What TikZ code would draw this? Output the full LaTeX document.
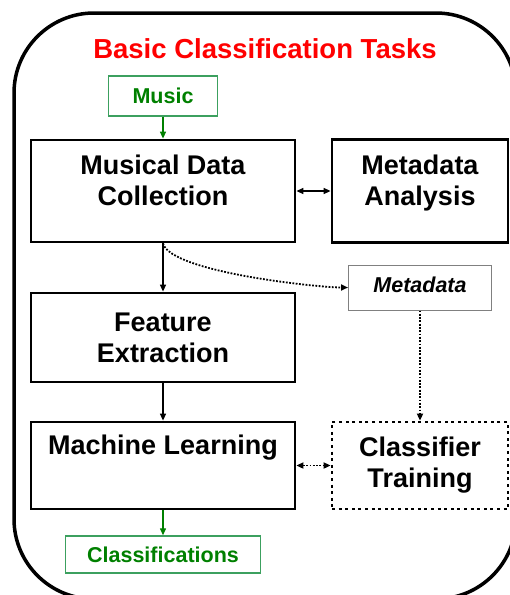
\documentclass[tikz,border=0pt]{standalone}
\usepackage{fontspec}
\setmainfont{Liberation Sans}
\usetikzlibrary{arrows.meta}
\definecolor{titlered}{RGB}{255,0,0}
\definecolor{musicgreen}{RGB}{0,128,0}
\definecolor{framegreen}{RGB}{60,160,95}
\tikzset{>={Triangle[length=7pt,width=6pt]},
task/.style={ % Sets the properties for each task box
draw,
line width=2.8pt,
inner sep=0pt,
align=center,
font=\fontsize{27}{31}\selectfont\bfseries},
twoline/.style={ % Text sits high in the upper boxes
text height=51pt,
text depth=23pt},
tag/.style={ % Green boxes for input and output
draw=framegreen,
line width=1.4pt,
inner sep=0pt,
text=musicgreen,
font=\fontsize{21.5}{25}\selectfont\bfseries},
dotline/.style={line width=1.8pt, dash pattern=on 1.8pt off 1.5pt},
every edge/.style={ % Sets the properties for each connector
draw,
->,
line width=1.3pt}}

\begin{document}
\begin{tikzpicture}[x=1pt, y=-1pt]
	\useasboundingbox (0,0) rectangle (510,595);
	\draw[line width=3.5pt, rounded corners=80pt] (14,13) rectangle (516,599);
	\node[text=titlered, font=\fontsize{27.5}{31}\selectfont\bfseries, anchor=base] (title) at (265,58) {Basic Classification Tasks};
	\node[tag, minimum width=109pt, minimum height=40pt] (music) at (163,96) {Music};
	\node[task, twoline, minimum width=264pt, minimum height=102pt] (mdc) at (163,191) {Musical Data\\Collection};
	\node[task, twoline, minimum width=176pt, minimum height=103pt] (mda) at (420,191) {Metadata\\Analysis};
	\node[task, minimum width=264pt, minimum height=89pt] (feat) at (163,337.5) {Feature\\Extraction};
	\node[task, text height=20pt, text depth=43pt, minimum width=264pt, minimum height=87pt] (ml) at (163,465.5) {Machine Learning};
	\node[task, dash pattern=on 3pt off 3.6pt, minimum width=176pt, minimum height=87pt] (ct) at (420,465.5) {Classifier\\Training};
	\node[draw=gray, line width=1pt, inner sep=0pt, text depth=6pt, font=\fontsize{21.5}{25}\selectfont\bfseries\itshape, minimum width=143pt, minimum height=45pt] (meta) at (420,287.5) {Metadata};
	\node[tag, minimum width=195pt, minimum height=37pt] (cls) at (163,554.5) {Classifications};
	\draw (music) edge[musicgreen] (mdc);
	\draw (mdc) edge[<->] (mda);
	\draw (mdc) edge (feat);
	\draw (feat) edge (ml);
	\draw (ml) edge[<->, dotline] (ct);
	\draw (ml) edge[musicgreen] (cls);
	\draw (mdc.south) edge[dotline, out=-75, in=180, looseness=0.4] (meta.west);
	\draw (meta) edge[dotline] (ct);
\end{tikzpicture}
\end{document}
